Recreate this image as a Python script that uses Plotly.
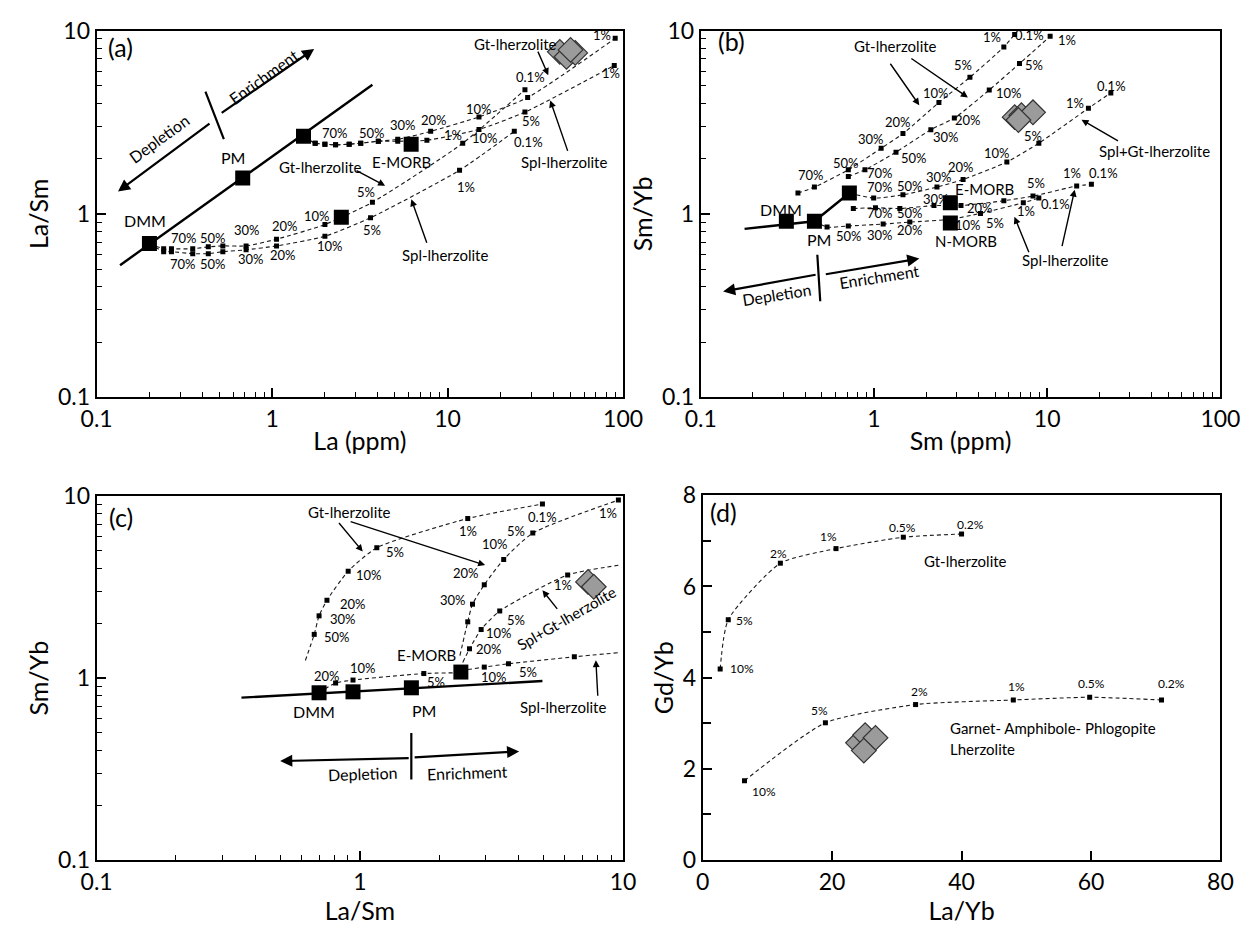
import plotly.graph_objects as go

W, H = 1254, 940
FONT = "Lato"

# ===================== Panel (a): La/Sm vs La (ppm) =====================
a_src_la = [0.20, 0.68, 1.51, 2.48, 6.2]          # DMM, PM, enriched source, N-MORB, E-MORB
a_src_lasm = [0.69, 1.57, 2.65, 0.96, 2.40]
a_array_la = [0.136, 3.73]
a_array_lasm = [0.525, 5.06]
a_dmm_gt_la = [0.241, 0.267, 0.353, 0.433, 0.524, 0.711, 1.06, 2.0, 3.73, 12.2, 27.6]
a_dmm_gt_lasm = [0.645, 0.645, 0.645, 0.661, 0.669, 0.669, 0.728, 0.875, 1.157, 2.43, 4.76]
a_dmm_spl_la = [0.241, 0.267, 0.353, 0.433, 0.524, 0.711, 1.06, 2.0, 3.64, 11.7, 24.0]
a_dmm_spl_lasm = [0.622, 0.622, 0.607, 0.607, 0.622, 0.637, 0.669, 0.755, 0.953, 1.73, 2.82]
a_enr_gt_la = [1.76, 2.0, 2.30, 2.75, 3.20, 4.03, 5.20, 8.01, 15.1, 28.6, 90.2]
a_enr_gt_lasm = [2.43, 2.40, 2.38, 2.40, 2.43, 2.49, 2.55, 2.82, 3.38, 4.31, 9.07]
a_enr_spl_la = [1.76, 2.0, 2.30, 2.75, 3.20, 4.03, 5.20, 7.62, 15.1, 27.6, 89.1]
a_enr_spl_lasm = [2.43, 2.40, 2.38, 2.40, 2.43, 2.49, 2.49, 2.52, 2.89, 3.59, 6.45]
a_smp_la = [43.6, 47.6, 53.4, 50.2]
a_smp_lasm = [7.65, 7.19, 7.55, 7.84]

# ===================== Panel (b): Sm/Yb vs Sm (ppm) =====================
b_src_sm = [0.312, 0.453, 0.721, 2.76, 2.76]       # DMM, PM, enriched source, E-MORB, N-MORB
b_src_smyb = [0.912, 0.912, 1.30, 1.15, 0.891]
b_array_sm = [0.179, 0.453, 0.721]
b_array_smyb = [0.828, 0.912, 1.30]
b_dmm_gt_sm = [0.364, 0.453, 0.711, 1.10, 1.47, 2.37, 3.58, 5.62, 6.49]
b_dmm_gt_smyb = [1.30, 1.40, 1.74, 2.28, 2.74, 4.05, 5.56, 8.13, 9.52]
b_enr_gt_sm = [0.711, 0.887, 1.34, 2.13, 2.91, 4.63, 6.92, 10.4]
b_enr_gt_smyb = [1.60, 1.74, 2.17, 2.88, 3.33, 4.74, 6.60, 9.30]
b_enr_sg_sm = [0.996, 1.47, 2.31, 3.27, 5.85, 8.95, 17.3, 23.3]
b_enr_sg_smyb = [1.22, 1.27, 1.40, 1.54, 1.92, 2.43, 3.77, 4.57]
b_enr_spl_sm = [0.760, 1.02, 1.41, 2.22, 3.18, 5.62, 8.28, 14.8, 18.0]
b_enr_spl_smyb = [1.07, 1.08, 1.07, 1.11, 1.11, 1.18, 1.25, 1.42, 1.45]
b_pm_spl_sm = [0.536, 0.711, 1.13, 1.61, 2.76, 4.12, 7.28, 8.95]
b_pm_spl_smyb = [0.848, 0.859, 0.880, 0.902, 0.935, 1.006, 1.15, 1.22]
b_smp_sm = [6.49, 7.10, 8.28, 6.82]
b_smp_smyb = [3.37, 3.45, 3.58, 3.25]

# ===================== Panel (c): Sm/Yb vs La/Sm =====================
c_src_lasm = [0.700, 0.942, 1.57, 2.42]            # DMM, N-MORB, PM, E-MORB
c_src_smyb = [0.831, 0.841, 0.885, 1.08]
c_array_lasm = [0.355, 4.94]
c_array_smyb = [0.781, 0.964]
c_dmm_gt_lasm = [0.671, 0.700, 0.750, 0.903, 1.16, 2.57, 4.94]
c_dmm_gt_smyb = [1.74, 2.20, 2.68, 3.87, 5.21, 7.54, 9.06]
c_dmm_gt_tail = [0.621, 1.25]
c_enr_gt_lasm = [2.57, 2.68, 2.97, 3.52, 4.54, 9.60]
c_enr_gt_smyb = [2.04, 2.55, 3.26, 4.49, 6.27, 9.52]
c_enr_gt_tail = [2.40, 1.33]
c_enr_sg_lasm = [2.61, 2.89, 3.40, 6.16]
c_enr_sg_smyb = [1.45, 1.85, 2.34, 3.69]
c_enr_sg_tail = [2.46, 1.22]
c_enr_sg_end = [9.60, 4.17]
c_enr_spl_lasm = [2.97, 3.67, 6.53]
c_enr_spl_smyb = [1.15, 1.20, 1.31]
c_enr_spl_tail = [2.42, 1.10]
c_enr_spl_end = [9.60, 1.38]
c_dmm_spl_lasm = [0.809, 0.942, 1.75]
c_dmm_spl_smyb = [0.940, 0.976, 1.06]
c_dmm_spl_end = [2.30, 1.07]
c_smp_lasm = [7.36, 7.74]
c_smp_smyb = [3.38, 3.18]

# ===================== Panel (d): Gd/Yb vs La/Yb =====================
d_gt_layb = [2.7, 3.95, 12.0, 20.6, 31.0, 40.0]
d_gt_gdyb = [4.19, 5.27, 6.51, 6.83, 7.08, 7.15]
d_gap_layb = [6.46, 18.96, 32.9, 48.0, 59.8, 70.9]
d_gap_gdyb = [1.74, 3.01, 3.41, 3.51, 3.57, 3.51]
d_smp_layb = [24.0, 25.1, 26.7, 24.9]
d_smp_gdyb = [2.57, 2.74, 2.68, 2.40]

fig = go.Figure()


def add_line(xs, ys, xa, ya, width=2.4):
    fig.add_trace(go.Scatter(x=xs, y=ys, mode="lines", xaxis=xa, yaxis=ya,
                             line=dict(color="black", width=width),
                             hoverinfo="skip", showlegend=False))


def add_curve(xs, ys, xa, ya, start=None, end=None):
    lx = ([start[0]] if start else []) + list(xs) + ([end[0]] if end else [])
    ly = ([start[1]] if start else []) + list(ys) + ([end[1]] if end else [])
    fig.add_trace(go.Scatter(x=lx, y=ly, mode="lines", xaxis=xa, yaxis=ya,
                             line=dict(color="#1a1a1a", width=1.1, dash="4px,3px",
                                       shape="spline", smoothing=0.6),
                             hoverinfo="skip", showlegend=False))
    fig.add_trace(go.Scatter(x=xs, y=ys, mode="markers", xaxis=xa, yaxis=ya,
                             marker=dict(symbol="square", size=5, color="black"),
                             showlegend=False))


def add_sources(xs, ys, xa, ya):
    fig.add_trace(go.Scatter(x=xs, y=ys, mode="markers", xaxis=xa, yaxis=ya,
                             marker=dict(symbol="square", size=15, color="black"),
                             showlegend=False))


def add_samples(xs, ys, xa, ya):
    fig.add_trace(go.Scatter(x=xs, y=ys, mode="markers", xaxis=xa, yaxis=ya,
                             marker=dict(symbol="diamond", size=19, color="#9b9b9b",
                                         line=dict(color="#333333", width=1.2)),
                             showlegend=False))


# ---- (a)
add_line(a_array_la, a_array_lasm, "x", "y")
add_curve(a_dmm_gt_la, a_dmm_gt_lasm, "x", "y", start=[a_src_la[0], a_src_lasm[0]])
add_curve(a_dmm_spl_la, a_dmm_spl_lasm, "x", "y", start=[a_src_la[0], a_src_lasm[0]])
add_curve(a_enr_gt_la, a_enr_gt_lasm, "x", "y", start=[a_src_la[2], a_src_lasm[2]])
add_curve(a_enr_spl_la, a_enr_spl_lasm, "x", "y", start=[a_src_la[2], a_src_lasm[2]])
add_sources(a_src_la, a_src_lasm, "x", "y")
add_samples(a_smp_la, a_smp_lasm, "x", "y")

# ---- (b)
add_line(b_array_sm, b_array_smyb, "x2", "y2")
add_curve(b_dmm_gt_sm, b_dmm_gt_smyb, "x2", "y2")
add_curve(b_enr_gt_sm, b_enr_gt_smyb, "x2", "y2")
add_curve(b_enr_sg_sm, b_enr_sg_smyb, "x2", "y2", start=[b_src_sm[2], b_src_smyb[2]])
add_curve(b_enr_spl_sm, b_enr_spl_smyb, "x2", "y2")
add_curve(b_pm_spl_sm, b_pm_spl_smyb, "x2", "y2", start=[b_src_sm[1], b_src_smyb[1]])
add_sources(b_src_sm, b_src_smyb, "x2", "y2")
add_samples(b_smp_sm, b_smp_smyb, "x2", "y2")

# ---- (c)
add_line(c_array_lasm, c_array_smyb, "x3", "y3")
add_curve(c_dmm_gt_lasm, c_dmm_gt_smyb, "x3", "y3", start=c_dmm_gt_tail)
add_curve(c_enr_gt_lasm, c_enr_gt_smyb, "x3", "y3", start=c_enr_gt_tail)
add_curve(c_enr_sg_lasm, c_enr_sg_smyb, "x3", "y3", start=c_enr_sg_tail, end=c_enr_sg_end)
add_curve(c_enr_spl_lasm, c_enr_spl_smyb, "x3", "y3", start=c_enr_spl_tail, end=c_enr_spl_end)
add_curve(c_dmm_spl_lasm, c_dmm_spl_smyb, "x3", "y3",
          start=[c_src_lasm[0], c_src_smyb[0]], end=c_dmm_spl_end)
add_sources(c_src_lasm, c_src_smyb, "x3", "y3")
add_samples(c_smp_lasm, c_smp_smyb, "x3", "y3")

# ---- (d)
add_curve(d_gt_layb, d_gt_gdyb, "x4", "y4")
add_curve(d_gap_layb, d_gap_gdyb, "x4", "y4")
add_samples(d_smp_layb, d_smp_gdyb, "x4", "y4")

# ===================== annotations (page pixel positions) =====================
ann = []


def txt(t, px, py, size=15, angle=0, xanchor="center"):
    ann.append(dict(text=t, x=px / W, y=1 - py / H, xref="paper", yref="paper",
                    showarrow=False, textangle=angle, xanchor=xanchor, yanchor="middle",
                    font=dict(family=FONT, size=size, color="black")))


def arrow(tail, head, thick=False, head_on=True):
    ann.append(dict(text="", x=head[0] / W, y=1 - head[1] / H, xref="paper", yref="paper",
                    ax=tail[0] - head[0], ay=tail[1] - head[1], showarrow=True,
                    arrowhead=2 if head_on else 0, arrowsize=1.1 if thick else 1.0,
                    arrowwidth=2.2 if thick else 1.4, arrowcolor="black", standoff=0))


pct_a = [("70%", 173, 230), ("50%", 203, 230), ("30%", 238, 222), ("20%", 277, 217),
         ("10%", 310, 207), ("5%", 360, 182), ("1%", 450, 124), ("0.1%", 530, 64),
         ("70%", 172, 257), ("50%", 203, 257), ("30%", 242, 252), ("20%", 275, 247),
         ("10%", 323, 238), ("5%", 367, 222), ("1%", 463, 177), ("0.1%", 528, 131),
         ("70%", 328, 122), ("50%", 367, 122), ("30%", 398, 113), ("20%", 430, 108),
         ("10%", 477, 97), ("10%", 483, 127), ("5%", 530, 109), ("1%", 603, 21), ("1%", 613, 60)]
pct_b = [("70%", 818, 165), ("50%", 855, 153), ("30%", 880, 128), ("20%", 908, 110),
         ("10%", 947, 80), ("5%", 975, 52), ("1%", 1005, 23), ("0.1%", 1043, 21),
         ("70%", 890, 163), ("50%", 925, 147), ("30%", 957, 126), ("20%", 980, 108),
         ("10%", 1022, 80), ("5%", 1048, 52), ("1%", 1082, 26),
         ("70%", 890, 177), ("50%", 920, 176), ("30%", 950, 167), ("20%", 973, 157),
         ("10%", 1010, 142), ("5%", 1047, 125), ("1%", 1090, 91), ("0.1%", 1128, 73),
         ("70%", 890, 204), ("50%", 920, 204), ("30%", 947, 190), ("20%", 993, 199),
         ("5%", 1050, 173), ("1%", 1087, 163), ("0.1%", 1120, 163),
         ("50%", 858, 228), ("30%", 890, 227), ("20%", 920, 222), ("10%", 980, 216),
         ("5%", 1008, 214), ("1%", 1040, 202), ("0.1%", 1070, 195)]
pct_c = [("50%", 330, 641), ("30%", 337, 623), ("20%", 347, 607), ("10%", 363, 577),
         ("5%", 390, 553), ("1%", 465, 532), ("0.1%", 542, 517),
         ("30%", 450, 603), ("20%", 463, 575), ("10%", 493, 545), ("5%", 515, 532), ("1%", 610, 513),
         ("20%", 487, 653), ("10%", 497, 637), ("5%", 515, 624), ("1%", 563, 588),
         ("10%", 492, 682), ("5%", 527, 677),
         ("20%", 320, 681), ("10%", 357, 673), ("5%", 432, 687)]
pct_d = [("10%", 747, 674), ("5%", 750, 624), ("2%", 785, 555), ("1%", 837, 537),
         ("0.5%", 913, 528), ("0.2%", 983, 525),
         ("10%", 770, 800), ("5%", 827, 717), ("2%", 930, 697), ("1%", 1030, 692),
         ("0.5%", 1107, 689), ("0.2%", 1190, 689)]
for t, px, py in pct_a + pct_b + pct_c:
    txt(t, px, py, size=13)
for t, px, py in pct_d:
    txt(t, px, py, size=12)

# (a)
txt("(a)", 108, 33, size=25)
txt("Depletion", 147, 127, size=16, angle=-36)
txt("Enrichment", 255, 63, size=16, angle=-36)
txt("PM", 223, 147, size=16)
txt("DMM", 133, 212, size=16)
txt("Gt-lherzolite", 313, 157)
txt("E-MORB", 397, 152)
txt("Gt-lherzolite", 514, 30)
txt("Spl-lherzolite", 564, 152)
txt("Spl-lherzolite", 442, 247)
arrow((198, 113), (105, 182), thick=True)
arrow((213, 100), (307, 35), thick=True)
arrow((195, 79), (214, 128), thick=True, head_on=False)
arrow((350, 160), (380, 176))
arrow((537, 37), (548, 62))
arrow((568, 140), (550, 88))
arrow((423, 235), (407, 190))

# (b)
txt("(b)", 737, 27, size=25)
txt("Gt-lherzolite", 905, 32)
txt("DMM", 788, 200, size=16)
txt("PM", 827, 231, size=16)
txt("E-MORB", 997, 179)
txt("N-MORB", 978, 233)
txt("Spl+Gt-lherzolite", 1172, 140)
txt("Spl-lherzolite", 1080, 253)
txt("Depletion", 783, 288, size=16, angle=-9)
txt("Enrichment", 889, 270, size=16, angle=-9)
arrow((900, 50), (930, 93))
arrow((922, 45), (980, 85))
arrow((1135, 130), (1097, 108))
arrow((1043, 245), (1028, 208))
arrow((1077, 238), (1090, 180))
arrow((822, 268), (728, 285), thick=True)
arrow((835, 267), (930, 251), thick=True)
arrow((825, 247), (828, 295), thick=True, head_on=False)

# (c)
txt("(c)", 108, 517, size=25)
txt("Gt-lherzolite", 343, 512)
txt("E-MORB", 423, 660)
txt("DMM", 307, 718, size=16)
txt("PM", 420, 717, size=16)
txt("Spl+Gt-lherzolite", 567, 622, angle=-30)
txt("Spl-lherzolite", 563, 713)
txt("Depletion", 357, 782, size=16, angle=-2)
txt("Enrichment", 465, 781, size=16, angle=-2)
arrow((332, 523), (357, 553))
arrow((347, 523), (483, 567))
arrow((558, 613), (542, 593))
arrow((599, 702), (597, 665))
arrow((402, 766), (272, 769), thick=True)
arrow((412, 765), (518, 759), thick=True)
arrow((407, 740), (407, 788), thick=True, head_on=False)

# (d)
txt("(d)", 728, 512, size=25)
txt("Gt-lherzolite", 933, 563, xanchor="left")
txt("Garnet- Amphibole- Phlogopite", 960, 735, xanchor="left")
txt("Lherzolite", 960, 757, xanchor="left")

# ===================== axes =====================
minor_3dec = [k * 10 ** e for e in (-1, 0, 1) for k in range(2, 10)]
minor_2dec = [k * 10 ** e for e in (-1, 0) for k in range(2, 10)]


def axis_common(domain, title):
    return dict(domain=domain, showline=True, linecolor="black", linewidth=2, mirror=True,
                ticks="inside", ticklen=9, tickwidth=1.6, tickcolor="black",
                showgrid=False, zeroline=False,
                tickfont=dict(family=FONT, size=23, color="black"),
                title=dict(text=title, font=dict(family=FONT, size=25, color="black"), standoff=2))


def log_axis(domain, rng, title, vals, texts, minor_vals, anchor):
    d = axis_common(domain, title)
    d.update(type="log", range=rng, tickvals=vals, ticktext=texts, anchor=anchor,
             minor=dict(ticks="inside", ticklen=5, tickwidth=1.3, tickcolor="black",
                        tickvals=minor_vals, showgrid=False))
    return d


XA = [83 / W, 625 / W]
XB = [705 / W, 1240 / W]
XD = [707 / W, 1240 / W]
YTOP = [1 - 394 / H, 1 - 16 / H]
YBOT = [1 - 871 / H, 1 - 496 / H]
YD = [1 - 871 / H, 1 - 495 / H]

lv3 = [0.1, 1, 10, 100]
lt3 = ["0.1", "1", "10", "100"]
lv2 = [0.1, 1, 10]
lt2 = ["0.1", "1", "10"]

xd = axis_common(XD, "La/Yb")
xd.update(range=[0, 80], tickvals=[0, 20, 40, 60, 80], anchor="y4")
yd = axis_common(YD, "Gd/Yb")
yd.update(range=[0, 8], tickvals=[0, 2, 4, 6, 8], anchor="x4",
          minor=dict(ticks="inside", ticklen=8, tickwidth=1.6, tickcolor="black", dtick=1, showgrid=False))

fig.update_layout(
    width=W, height=H, margin=dict(l=0, r=0, t=0, b=0),
    paper_bgcolor="white", plot_bgcolor="white", showlegend=False,
    font=dict(family=FONT, color="black"),
    xaxis=log_axis(XA, [-1, 2], "La (ppm)", lv3, lt3, minor_3dec, "y"),
    yaxis=log_axis(YTOP, [-1, 1], "La/Sm", lv2, lt2, minor_2dec, "x"),
    xaxis2=log_axis(XB, [-1, 2], "Sm (ppm)", lv3, lt3, minor_3dec, "y2"),
    yaxis2=log_axis(YTOP, [-1, 1], "Sm/Yb", lv2, lt2, minor_2dec, "x2"),
    xaxis3=log_axis(XA, [-1, 1], "La/Sm", lv2, lt2, minor_2dec, "y3"),
    yaxis3=log_axis(YBOT, [-1, 1], "Sm/Yb", lv2, lt2, minor_2dec, "x3"),
    xaxis4=xd,
    yaxis4=yd,
    annotations=ann,
)

fig.write_html("out.html", config={"displayModeBar": False},
               post_script="document.body.style.margin='0';")
